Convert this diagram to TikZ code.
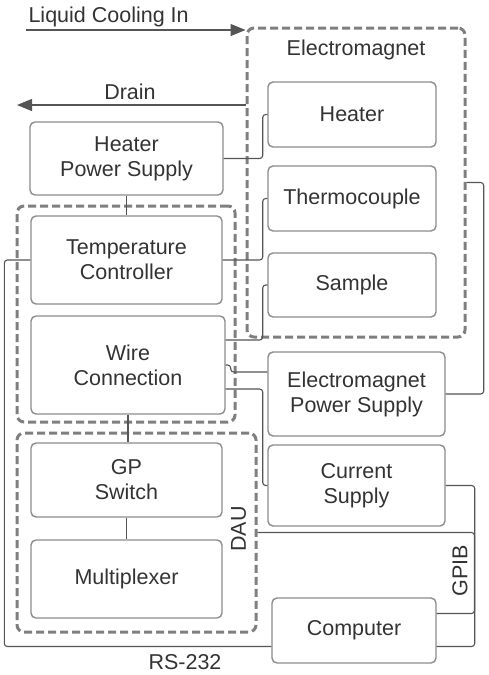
\documentclass[tikz,border=0pt]{standalone}
\usepackage{fontspec}
\setmainfont{Liberation Sans}
\usetikzlibrary{arrows.meta}
\definecolor{boxgray}{HTML}{8C8C8C}
\definecolor{dashgray}{HTML}{7F7F7F}
\definecolor{wiregray}{HTML}{555555}
\definecolor{textgray}{HTML}{333333}
\begin{document}
\begin{tikzpicture}[x=1pt, y=-1pt,
    font=\fontsize{21.5}{25}\selectfont, text=textgray,
    unit/.style={draw=boxgray, line width=1.4pt, rounded corners=5pt, align=center, inner sep=0pt},
    group/.style={draw=dashgray, line width=3pt, dash pattern=on 8pt off 4pt, rounded corners=7pt, inner sep=0pt},
    wire/.style={draw=wiregray, line width=1.1pt, rounded corners=3pt},
    flow/.style={draw=wiregray, line width=1.2pt, -{Triangle[length=15pt, width=12pt]}}]
    \useasboundingbox (0,0) rectangle (489,675);

    % Draw the dashed groups
    \node[group, minimum width=218pt, minimum height=309pt] (em) at (356,182.5) {};
    \node[group, minimum width=218pt, minimum height=216pt] (ctrl) at (126,314) {};
    \node[group, minimum width=239pt, minimum height=199pt] (dau) at (136.5,532.5) {};
    \node (emtitle) at (356,50) {Electromagnet};
    \node[rotate=90] (dautitle) at (238.5,529) {DAU};

    % Draw the boxes on the left
    \node[unit, minimum width=193pt, minimum height=73pt] (hps) at (126.5,158.5) {Heater\\Power Supply};
    \node[unit, minimum width=191pt, minimum height=88pt] (tcc) at (126.5,260) {Temperature\\Controller};
    \node[unit, minimum width=194pt, minimum height=98pt] (wc) at (128,365) {Wire\\Connection};
    \node[unit, minimum width=191pt, minimum height=74pt] (gps) at (126.5,480) {GP\\Switch};
    \node[unit, minimum width=191pt, minimum height=78pt] (mux) at (126.5,579) {Multiplexer};

    % Draw the boxes on the right
    \node[unit, minimum width=168pt, minimum height=65pt] (ht) at (352,114.5) {Heater};
    \node[unit, minimum width=168pt, minimum height=65pt] (thc) at (352,198.5) {Thermocouple};
    \node[unit, minimum width=168pt, minimum height=64pt] (smp) at (352,285) {Sample};
    \node[unit, minimum width=177pt, minimum height=84pt] (emps) at (356.5,394) {Electromagnet\\Power Supply};
    \node[unit, minimum width=177pt, minimum height=81pt] (cs) at (356.5,485.5) {Current\\Supply};
    \node[unit, minimum width=164pt, minimum height=65pt] (pc) at (354,630.5) {Computer};

    % Draw the cooling water
    \coordinate (coolin) at (26,30);
    \coordinate (drainend) at (17,105);
    \draw[flow] (coolin) -- (coolin -| em.west);
    \draw[flow] (em.west |- drainend) -- (drainend);
    \node[anchor=west] (coollabel) at (25,17) {Liquid Cooling In};
    \node (drainlabel) at (130,92) {Drain};

    % Draw the wires between the boxes
    \draw[wire] (hps.east) -- ++(39,0) |- (ht.west);
    \draw[wire] (hps.south) -- (tcc.north);
    \draw[wire] (tcc.east) -- ++(40,0) |- (thc.west);
    \draw[wire] ([yshift=25pt]wc.east) -- ++(37,0) |- (smp.west);
    \draw[wire] (wc.east) -- ++(5,0) |- ([yshift=22pt]emps.west);
    \draw[wire] ([yshift=-24pt]wc.east) -- ++(37,0) |- (cs.west);
    \draw[wire] (emps.east) -- ++(38,0) |- (em.east);
    \draw[wire] (wc.south) -- (wc.south |- gps.north);
    \draw[wire] (gps.south) -- (gps.south |- mux.north);

    % Draw the links to the computer
    \draw[wire] (tcc.west) -- ++(-26,0) |- ([yshift=-16pt]pc.west);
    \draw[wire] (cs.east) -- ++(29,0) |- ([yshift=-16pt]pc.east);
    \draw[wire] (dau.east) -- ++(217,0) |- ([yshift=17pt]pc.east);
    \node (rslabel) at (185,662) {RS-232};
    \node[rotate=90] (gpiblabel) at (460,571) {GPIB};

\end{tikzpicture}
\end{document}
